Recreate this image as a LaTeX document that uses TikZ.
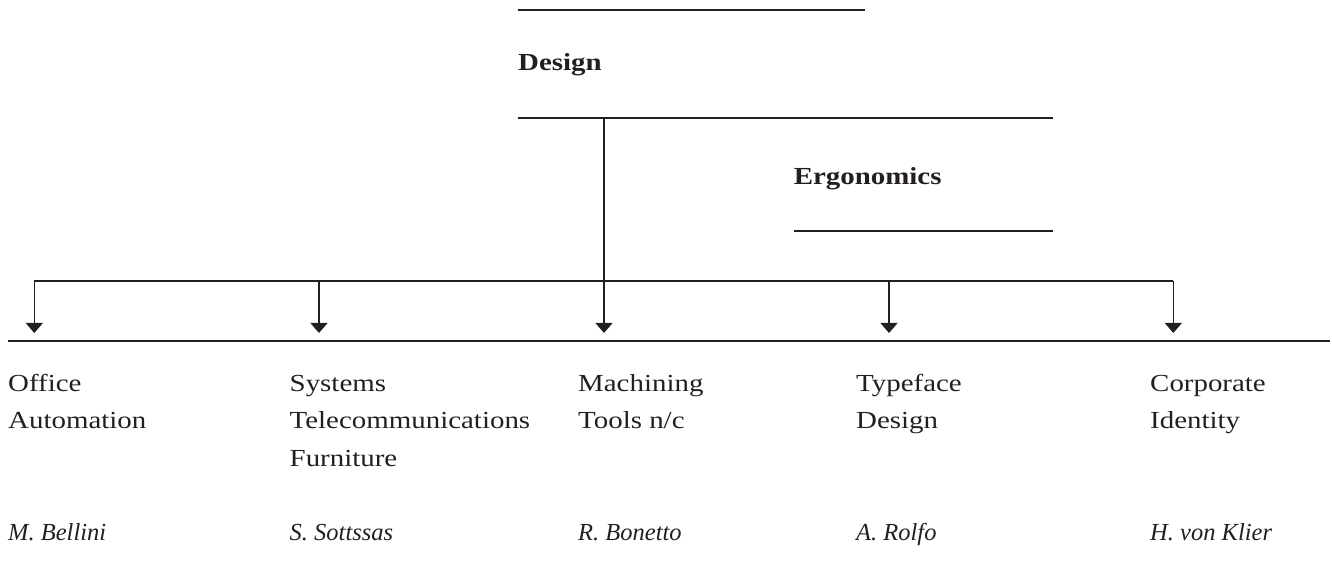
\documentclass[tikz,border=0pt]{standalone}
\usepackage{fontspec}
\setmainfont[FakeStretch=1.18]{Liberation Serif}
\newfontfamily\namefont{Liberation Serif}
\usetikzlibrary{arrows.meta}
\definecolor{ink}{HTML}{231F20}
\begin{document}
\begin{tikzpicture}[x=1pt,y=1pt,
  txt/.style={anchor=base west, inner sep=0pt, text=ink, font=\fontsize{24.5}{30}\selectfont},
  head/.style={txt, font=\fontsize{24.5}{30}\selectfont\bfseries},
  who/.style={anchor=base west, inner sep=0pt, text=ink, font=\fontsize{24.5}{30}\selectfont\namefont\itshape},
  rule/.style={draw=ink, line width=2pt},
  thin/.style={draw=ink, line width=1.1pt},
  arr/.style={draw=ink, line width=1.1pt, -{Triangle[width=17pt,length=10pt]}}
]
\useasboundingbox (0,0) rectangle (1332,565);
% top rules and headings
\coordinate (r1a) at (518,554.5); \coordinate (r1b) at (865,554.5);
\node[head] (design) at (518,494) {Design};
\coordinate (r2a) at (518,447.3); \coordinate (r2b) at (1053,447.3);
\node[head] (ergo) at (793.6,380) {Ergonomics};
\coordinate (r3a) at (793.6,334.3); \coordinate (r3b) at (1053,334.3);
\path[rule] (r1a) -- (r1b);
\path[rule] (r2a) -- (r2b);
\path[rule] (r3a) -- (r3b);
% stem point
\coordinate (stem) at (604,447.3);
% bar
\coordinate (b1) at (34.3,284); \coordinate (b2) at (319,284);
\coordinate (b3) at (604,284); \coordinate (b4) at (889,284);
\coordinate (b5) at (1173.3,284);
\coordinate (e1) at (34.3,232); \coordinate (e2) at (319,232);
\coordinate (e3) at (604,232); \coordinate (e4) at (889,232);
\coordinate (e5) at (1173.3,232);
\path[thin] (e1 |- b1) -- (b5);
\path[thin] (stem) -- (b3);
\path[arr] (b1) -- (e1);
\path[arr] (b2) -- (e2);
\path[arr] (b3) -- (e3);
\path[arr] (b4) -- (e4);
\path[arr] (b5) -- (e5);
% long line
\coordinate (la) at (8,224); \coordinate (lb) at (1330,224);
\path[thin] (la) -- (lb);
% column texts
\node[txt] (c1a) at (8,173.3) {Office};
\node[txt] (c1b) at (8,136) {Automation};
\node[txt] (c2a) at (289.5,173.3) {Systems};
\node[txt] (c2b) at (289.5,136) {Telecommunications};
\node[txt] (c2c) at (289.5,98.7) {Furniture};
\node[txt] (c3a) at (578,173.3) {Machining};
\node[txt] (c3b) at (578,136) {Tools n/c};
\node[txt] (c4a) at (856,173.3) {Typeface};
\node[txt] (c4b) at (856,136) {Design};
\node[txt] (c5a) at (1150,173.3) {Corporate};
\node[txt] (c5b) at (1150,136) {Identity};
% names
\node[who] (n1) at (8,24.5) {M. Bellini};
\node[who] (n2) at (289.5,24.5) {S. Sottssas};
\node[who] (n3) at (578,24.5) {R. Bonetto};
\node[who] (n4) at (856,24.5) {A. Rolfo};
\node[who] (n5) at (1150,24.5) {H. von Klier};
\end{tikzpicture}
\end{document}
